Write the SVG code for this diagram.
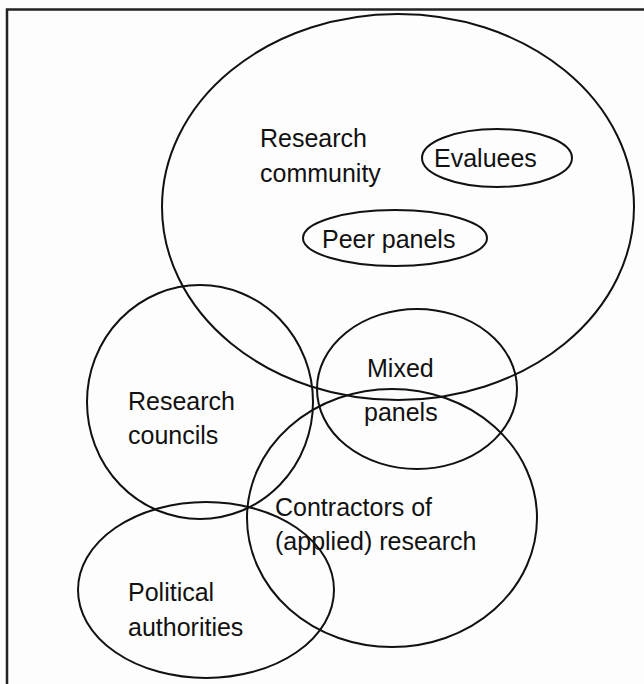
<svg xmlns="http://www.w3.org/2000/svg" width="644" height="684" viewBox="0 0 644 684">
  <style>
    .ring { fill: none; stroke: #111; stroke-width: 2; }
    .frame { fill: none; stroke: #222; stroke-width: 2.5; }
    .lbl { font-family: "Liberation Sans", Arial, sans-serif; font-size: 25px; fill: #111; }
  </style>
  <rect width="644" height="684" fill="#fdfdfd"/>
  <!-- open frame: left and top edges -->
  <path class="frame" d="M7,684 V9.5 H644"/>

  <g id="research-community">
    <ellipse class="ring" cx="398" cy="207" rx="236" ry="193"/>
    <text class="lbl" x="260" y="147">Research</text>
    <text class="lbl" x="260" y="182">community</text>
  </g>

  <g id="evaluees">
    <ellipse class="ring" cx="497" cy="158" rx="75" ry="29"/>
    <text class="lbl" x="434" y="167">Evaluees</text>
  </g>

  <g id="peer-panels">
    <ellipse class="ring" cx="395" cy="238" rx="92" ry="28"/>
    <text class="lbl" x="322" y="248">Peer panels</text>
  </g>

  <g id="research-councils">
    <ellipse class="ring" cx="200" cy="402" rx="113" ry="117"/>
    <text class="lbl" x="128" y="410">Research</text>
    <text class="lbl" x="128" y="444">councils</text>
  </g>

  <g id="mixed-panels">
    <ellipse class="ring" cx="417" cy="389" rx="100" ry="80"/>
    <text class="lbl" x="367" y="377">Mixed</text>
    <text class="lbl" x="364" y="421">panels</text>
  </g>

  <g id="contractors">
    <ellipse class="ring" cx="392" cy="518" rx="145" ry="129"/>
    <text class="lbl" x="275" y="516">Contractors of</text>
    <text class="lbl" x="275" y="550">(applied) research</text>
  </g>

  <g id="political-authorities">
    <ellipse class="ring" cx="206" cy="590" rx="128" ry="88"/>
    <text class="lbl" x="128" y="601">Political</text>
    <text class="lbl" x="128" y="636">authorities</text>
  </g>

  <g id="connectors"/>
</svg>
